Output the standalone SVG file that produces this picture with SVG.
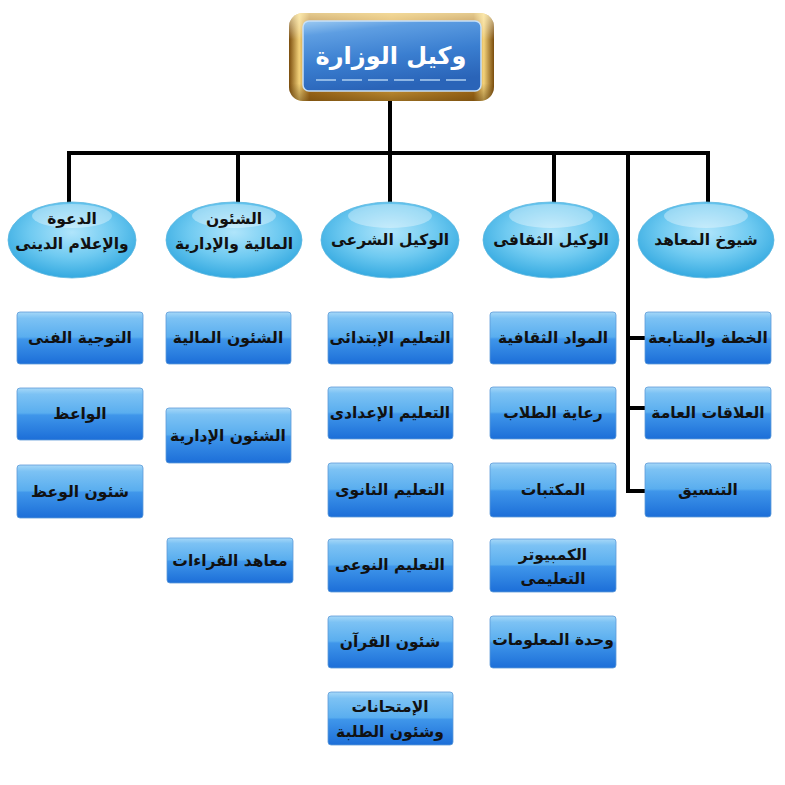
<svg xmlns="http://www.w3.org/2000/svg" width="785" height="785" viewBox="0 0 785 785">
<style>
.line{stroke:#000;stroke-width:4;fill:none;stroke-linecap:square}
.box{fill:url(#boxg);stroke:#5d9bd8;stroke-width:0.8}
.ell{fill:url(#ellg);stroke:#5bb6e0;stroke-width:0.8}
.hl{fill:#ffffff;opacity:0.35}
.t{font-family:"DejaVu Sans",sans-serif;font-weight:bold;font-size:15.5px;fill:#111;text-anchor:middle}
.title{font-family:"DejaVu Sans",sans-serif;font-weight:bold;font-size:24px;fill:#fff;text-anchor:middle}
</style>
<defs>
<linearGradient id="boxg" x1="0" y1="0" x2="0" y2="1">
<stop offset="0" stop-color="#a6d8f8"/>
<stop offset="0.12" stop-color="#7cc2f4"/>
<stop offset="0.48" stop-color="#5aaeef"/>
<stop offset="0.52" stop-color="#3f96ea"/>
<stop offset="1" stop-color="#1c6ed8"/>
</linearGradient>
<radialGradient id="ellg" cx="0.5" cy="0.4" r="0.6">
<stop offset="0" stop-color="#b0e5fb"/>
<stop offset="0.55" stop-color="#6fcaf1"/>
<stop offset="1" stop-color="#34a9e0"/>
</radialGradient>
<linearGradient id="gold" x1="0" y1="0" x2="1" y2="0">
<stop offset="0" stop-color="#7a4c0c"/>
<stop offset="0.05" stop-color="#f3d27a"/>
<stop offset="0.1" stop-color="#a86e1a"/>
<stop offset="0.5" stop-color="#d59e3a"/>
<stop offset="0.9" stop-color="#a86e1a"/>
<stop offset="0.95" stop-color="#f3d27a"/>
<stop offset="1" stop-color="#7a4c0c"/>
</linearGradient>
<linearGradient id="goldv" x1="0" y1="0" x2="0" y2="1">
<stop offset="0" stop-color="#fff2c0" stop-opacity="0.7"/>
<stop offset="0.3" stop-color="#ffffff" stop-opacity="0"/>
<stop offset="0.8" stop-color="#5a3a08" stop-opacity="0"/>
<stop offset="1" stop-color="#5a3a08" stop-opacity="0.5"/>
</linearGradient>
<linearGradient id="blue" x1="0" y1="0" x2="0.3" y2="1">
<stop offset="0" stop-color="#9ccaf2"/>
<stop offset="0.2" stop-color="#5e9ee2"/>
<stop offset="0.6" stop-color="#3a7ed0"/>
<stop offset="1" stop-color="#2a64b8"/>
</linearGradient>
</defs>
<rect width="785" height="785" fill="#fff"/>

<g id="connectors">
<path class="line" d="M390 100 V153 M69 153 H708 M69 153 V201 M238 153 V201 M390 153 V201 M554 153 V201 M708 153 V201"/>
<path class="line" d="M628 153 V491 H645 M628 338 H645 M628 408 H645"/>
</g>

<g id="n-top">
<rect x="289" y="13" width="205" height="88" rx="14" fill="url(#gold)"/>
<rect x="289" y="13" width="205" height="88" rx="14" fill="url(#goldv)"/>
<rect x="303" y="21" width="178" height="70" rx="6" fill="url(#blue)" stroke="#c7e0f8" stroke-width="1.5"/>
<path d="M316 80 H468" stroke="#b6d6f5" stroke-width="2" stroke-dasharray="20 6" opacity="0.7"/>
<text class="title" x="391" y="64" direction="rtl">وكيل الوزارة</text>
</g>

<g id="e1">
<ellipse class="ell" cx="72" cy="240" rx="64" ry="38"/>
<ellipse class="hl" cx="72" cy="216" rx="40" ry="12"/>
<text class="t" x="72" y="224" direction="rtl">الدعوة</text>
<text class="t" x="72" y="249" direction="rtl">والإعلام الدينى</text>
</g>
<g id="e2">
<ellipse class="ell" cx="234" cy="240" rx="68" ry="38"/>
<ellipse class="hl" cx="234" cy="216" rx="42" ry="12"/>
<text class="t" x="234" y="224" direction="rtl">الشئون</text>
<text class="t" x="234" y="249" direction="rtl">المالية والإدارية</text>
</g>
<g id="e3">
<ellipse class="ell" cx="390" cy="240" rx="69" ry="38"/>
<ellipse class="hl" cx="390" cy="216" rx="42" ry="12"/>
<text class="t" x="390" y="245" direction="rtl">الوكيل الشرعى</text>
</g>
<g id="e4">
<ellipse class="ell" cx="551" cy="240" rx="68" ry="38"/>
<ellipse class="hl" cx="551" cy="216" rx="42" ry="12"/>
<text class="t" x="551" y="245" direction="rtl">الوكيل الثقافى</text>
</g>
<g id="e5">
<ellipse class="ell" cx="706" cy="240" rx="68" ry="38"/>
<ellipse class="hl" cx="706" cy="216" rx="42" ry="12"/>
<text class="t" x="706" y="245" direction="rtl">شيوخ المعاهد</text>
</g>

<g id="b1-1"><rect class="box" x="17" y="312" width="126" height="52" rx="3"/><text class="t" x="80" y="343" direction="rtl">التوجية الفنى</text></g>
<g id="b1-2"><rect class="box" x="17" y="388" width="126" height="52" rx="3"/><text class="t" x="80" y="419" direction="rtl">الواعظ</text></g>
<g id="b1-3"><rect class="box" x="17" y="465" width="126" height="53" rx="3"/><text class="t" x="80" y="497" direction="rtl">شئون الوعظ</text></g>

<g id="b2-1"><rect class="box" x="166" y="312" width="125" height="52" rx="3"/><text class="t" x="228" y="343" direction="rtl">الشئون المالية</text></g>
<g id="b2-2"><rect class="box" x="166" y="408" width="125" height="55" rx="3"/><text class="t" x="228" y="441" direction="rtl">الشئون الإدارية</text></g>
<g id="b2-3"><rect class="box" x="167" y="538" width="126" height="45" rx="3"/><text class="t" x="230" y="566" direction="rtl">معاهد القراءات</text></g>

<g id="b3-1"><rect class="box" x="328" y="312" width="125" height="52" rx="3"/><text class="t" x="390" y="343" direction="rtl">التعليم الإبتدائى</text></g>
<g id="b3-2"><rect class="box" x="328" y="387" width="125" height="52" rx="3"/><text class="t" x="390" y="418" direction="rtl">التعليم الإعدادى</text></g>
<g id="b3-3"><rect class="box" x="328" y="463" width="125" height="54" rx="3"/><text class="t" x="390" y="495" direction="rtl">التعليم الثانوى</text></g>
<g id="b3-4"><rect class="box" x="328" y="539" width="125" height="53" rx="3"/><text class="t" x="390" y="570" direction="rtl">التعليم النوعى</text></g>
<g id="b3-5"><rect class="box" x="328" y="616" width="125" height="52" rx="3"/><text class="t" x="390" y="647" direction="rtl">شئون القرآن</text></g>
<g id="b3-6"><rect class="box" x="328" y="692" width="125" height="53" rx="3"/><text class="t" x="390" y="712" direction="rtl">الإمتحانات</text><text class="t" x="390" y="737" direction="rtl">وشئون الطلبة</text></g>

<g id="b4-1"><rect class="box" x="490" y="312" width="126" height="52" rx="3"/><text class="t" x="553" y="343" direction="rtl">المواد الثقافية</text></g>
<g id="b4-2"><rect class="box" x="490" y="387" width="126" height="52" rx="3"/><text class="t" x="553" y="418" direction="rtl">رعاية الطلاب</text></g>
<g id="b4-3"><rect class="box" x="490" y="463" width="126" height="54" rx="3"/><text class="t" x="553" y="495" direction="rtl">المكتبات</text></g>
<g id="b4-4"><rect class="box" x="490" y="539" width="126" height="53" rx="3"/><text class="t" x="553" y="560" direction="rtl">الكمبيوتر</text><text class="t" x="553" y="584" direction="rtl">التعليمى</text></g>
<g id="b4-5"><rect class="box" x="490" y="616" width="126" height="52" rx="3"/><text class="t" x="553" y="645" direction="rtl">وحدة المعلومات</text></g>

<g id="b5-1"><rect class="box" x="645" y="312" width="126" height="52" rx="3"/><text class="t" x="708" y="343" direction="rtl">الخطة والمتابعة</text></g>
<g id="b5-2"><rect class="box" x="645" y="387" width="126" height="52" rx="3"/><text class="t" x="708" y="418" direction="rtl">العلاقات العامة</text></g>
<g id="b5-3"><rect class="box" x="645" y="463" width="126" height="54" rx="3"/><text class="t" x="708" y="495" direction="rtl">التنسيق</text></g>
</svg>
